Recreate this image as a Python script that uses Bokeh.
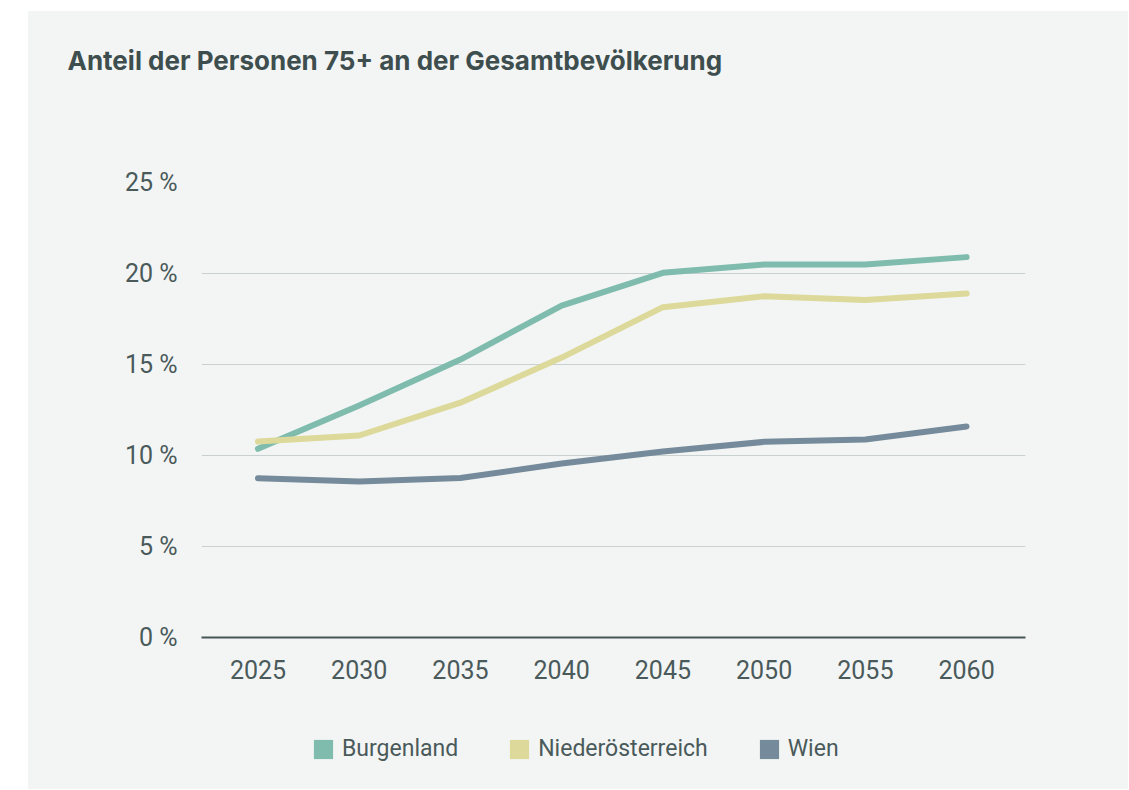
from bokeh.plotting import figure
from bokeh.models import Range1d, FixedTicker, Legend, LegendItem, Spacer, ColumnDataSource
from bokeh.layouts import row, column
from bokeh.embed import file_html
from bokeh.resources import INLINE

years = [2025, 2030, 2035, 2040, 2045, 2050, 2055, 2060]
burgenland = [10.37, 12.75, 15.27, 18.24, 20.04, 20.49, 20.49, 20.90]
niederoesterreich = [10.77, 11.10, 12.90, 15.38, 18.15, 18.75, 18.55, 18.90]
wien = [8.75, 8.57, 8.76, 9.56, 10.22, 10.75, 10.88, 11.59]
series_names = ["Burgenland", "Niederösterreich", "Wien"]
y_ticks = [0, 5, 10, 15, 20, 25]
y_labels = ["0 %", "5 %", "10 %", "15 %", "20 %", "25 %"]
title_text = "Anteil der Personen 75+ an der Gesamtbevölkerung"

colors = ["#7fbcad", "#dcd99a", "#758b9b"]
BG = "#f3f5f4"
TXT = "#4a5a5b"
W = 1100
NAN = float("nan")


def strip(h, title=None):
    f = figure(width=W, height=h, output_backend="svg", toolbar_location=None,
               title=title, x_axis_type=None, y_axis_type=None,
               x_range=Range1d(0, 1), y_range=Range1d(0, 1),
               min_border=0, min_border_left=173, min_border_right=103,
               min_border_top=0, min_border_bottom=0)
    f.background_fill_color = BG
    f.border_fill_color = BG
    f.outline_line_color = None
    f.xgrid.visible = False
    f.ygrid.visible = False
    return f


# ---- title strip
tf = strip(100, title_text)
tf.title.align = "left"
tf.title.offset = -134
tf.title.standoff = 62
tf.title.text_font = "Inter"
tf.title.text_font_style = "bold"
tf.title.text_font_size = "26px"
tf.title.text_color = "#3e4e4f"

# ---- main chart
p = figure(width=W, height=609, output_backend="svg", toolbar_location=None, title=None,
           x_range=Range1d(2022.21, 2062.91), y_range=Range1d(0, 25),
           min_border_left=173, min_border_right=103, min_border_top=71, min_border_bottom=83)
p.background_fill_color = BG
p.border_fill_color = BG
p.outline_line_color = None

xa = p.xaxis[0]
xa.ticker = FixedTicker(ticks=years)
xa.axis_line_color = "#465556"
xa.axis_line_width = 2
xa.major_tick_line_color = None
xa.minor_tick_line_color = None
xa.major_label_standoff = 16
xa.major_label_text_font = "Roboto"
xa.major_label_text_font_size = "25px"
xa.major_label_text_color = TXT

ya = p.yaxis[0]
ya.ticker = FixedTicker(ticks=y_ticks)
ya.major_label_overrides = {t: l for t, l in zip(y_ticks, y_labels)}
ya.axis_line_color = None
ya.major_tick_line_color = None
ya.minor_tick_line_color = None
ya.major_tick_out = 0
ya.major_tick_in = 0
ya.major_label_standoff = 24
ya.major_label_text_font = "Roboto"
ya.major_label_text_font_size = "25px"
ya.major_label_text_color = TXT

p.xgrid.grid_line_color = None
p.ygrid.ticker = FixedTicker(ticks=y_ticks[1:])
p.ygrid.grid_line_color = "#c9d0d0"
p.ygrid.grid_line_width = 1

for name, vals, c in zip(series_names, [burgenland, niederoesterreich, wien], colors):
    p.line(years, vals, line_color=c, line_width=6, line_cap="round", line_join="round")

# ---- legend strip
lf = strip(69)
items = []
for name, c in zip(series_names, colors):
    src = ColumnDataSource(dict(l=[NAN], r=[NAN], b=[NAN], t=[NAN]))
    q = lf.quad(left="l", right="r", bottom="b", top="t", source=src,
                fill_color=c, line_color=None)
    items.append(LegendItem(label=name, renderers=[q]))

legend = Legend(items=items, orientation="horizontal", location=(110, 27),
                padding=0, margin=0, spacing=49, label_standoff=7,
                glyph_width=24, glyph_height=24, label_height=24,
                border_line_color=None, background_fill_alpha=0,
                label_text_font="Roboto", label_text_font_size="23px",
                label_text_color=TXT)
lf.add_layout(legend)

inner = column(tf, p, lf, styles={"background-color": BG})
layout = column(Spacer(height=11), row(Spacer(width=28), inner))

open("out.html", "w").write(file_html(layout, INLINE))
